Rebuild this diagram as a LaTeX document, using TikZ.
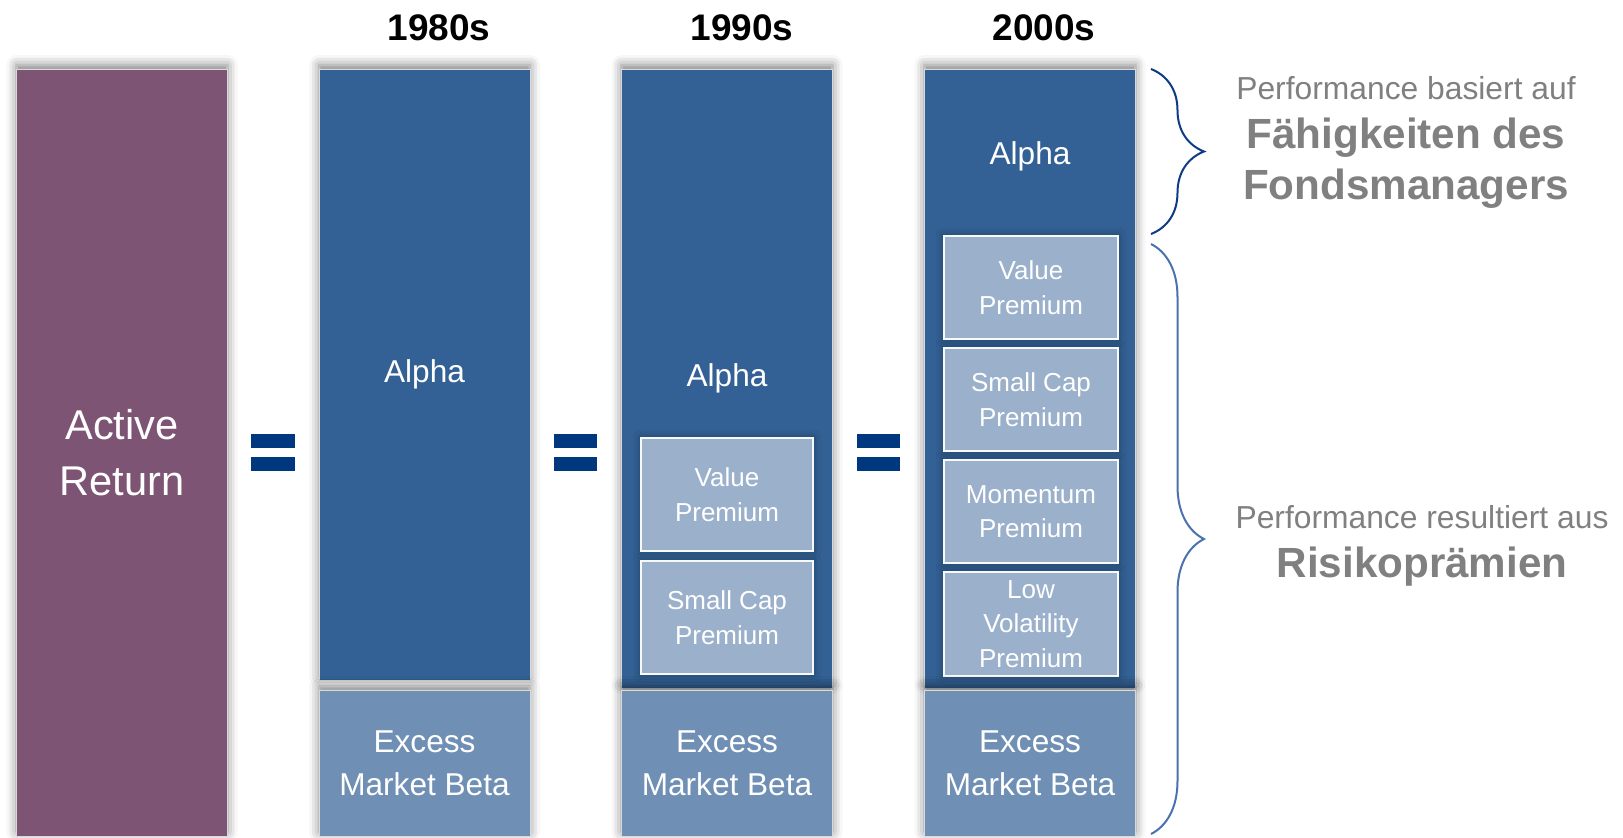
\documentclass[tikz,border=0pt]{standalone}
\usepackage{fontspec}
\setmainfont{Liberation Sans}
\usetikzlibrary{decorations.pathreplacing,shadows.blur}

\definecolor{activepurple}{RGB}{125,84,115}
\definecolor{alphablue}{RGB}{51,97,149}
\definecolor{betablue}{RGB}{111,143,181}
\definecolor{premblue}{RGB}{155,176,203}
\definecolor{eqblue}{RGB}{0,56,128}
\definecolor{bracedark}{RGB}{14,58,134}
\definecolor{bracelight}{RGB}{74,114,174}
\definecolor{notegray}{RGB}{128,128,128}

\tikzset{
  colbar/.style={rectangle, draw=white!85!black, line width=0.5pt, inner sep=0pt,
    minimum width=105.5pt, text=white, align=center,
    font=\fontsize{15.8}{21.5}\selectfont,
    blur shadow={shadow xshift=0pt, shadow yshift=2pt, shadow blur radius=5pt, shadow opacity=50}},
  premium/.style={rectangle, draw=white!92!premblue, line width=0.8pt, inner sep=0pt,
    fill=premblue, text=white, align=center, font=\fontsize{13}{17.3}\selectfont,
    blur shadow={shadow xshift=0pt, shadow yshift=0pt, shadow blur radius=4pt, shadow opacity=40}},
  yearlabel/.style={anchor=base, font=\bfseries\fontsize{18.5}{22}\selectfont},
  notesmall/.style={anchor=base, text=notegray, font=\fontsize{15.9}{19}\selectfont},
  notebig/.style={anchor=base, text=notegray, font=\bfseries\fontsize{21.1}{25.5}\selectfont},
  bracket/.style={decorate, decoration={brace, amplitude=26.5pt}, line width=1pt}
}

\begin{document}
\begin{tikzpicture}[x=0.5pt,y=-0.5pt]
\useasboundingbox (0,0) rectangle (1623,837);

% headers
\node[yearlabel] (y80) at (439,40) {1980s};
\node[yearlabel] (y90) at (742,40) {1990s};
\node[yearlabel] (y00) at (1044,40) {2000s};

% active return
\node[colbar, fill=activepurple, minimum height=383.5pt,
      font=\fontsize{20.8}{28}\selectfont] (active) at (122,452.5) {Active\\Return};

% 1980s
\node[colbar, fill=alphablue, minimum height=305.5pt] (alpha80) at (424.5,374.5) {Alpha};
\node[colbar, fill=betablue, minimum height=73pt] (beta80) at (424.5,763) {Excess\\Market Beta};

% 1990s
\node[colbar, fill=alphablue, minimum height=309.5pt] (alpha90) at (727,378.5) {Alpha};
\node[premium, minimum width=86pt, minimum height=56.5pt] (value90) at (727,494.5) {Value\\Premium};
\node[premium, minimum width=86pt, minimum height=56.5pt] (small90) at (727,617.5) {Small Cap\\Premium};
\node[colbar, fill=betablue, minimum height=73pt] (beta90) at (727,763) {Excess\\Market Beta};

% 2000s
\node[colbar, fill=alphablue, minimum height=309.5pt] (alpha00) at (1030,378.5) {};
\node[text=white, font=\fontsize{15.8}{21.5}\selectfont] (alphatext00) at (1030,156) {Alpha};
\node[premium, minimum width=87pt, minimum height=51.5pt] (value00) at (1031,287.5) {Value\\Premium};
\node[premium, minimum width=87pt, minimum height=51.5pt] (small00) at (1031,399.5) {Small Cap\\Premium};
\node[premium, minimum width=87pt, minimum height=51.5pt] (mom00) at (1031,511.5) {Momentum\\Premium};
\node[premium, minimum width=87pt, minimum height=52pt] (lowvol00) at (1031,624) {Low\\Volatility\\Premium};
\node[colbar, fill=betablue, minimum height=73pt] (beta00) at (1030,763) {Excess\\Market Beta};

% equals signs
\fill[eqblue] (251,434) rectangle (295,448);
\fill[eqblue] (251,457) rectangle (295,471);
\fill[eqblue] (554,434) rectangle (597,448);
\fill[eqblue] (554,457) rectangle (597,471);
\fill[eqblue] (857,434) rectangle (900,448);
\fill[eqblue] (857,457) rectangle (900,471);

% braces
\coordinate (skilltop) at (1151,69);
\coordinate (skillbot) at (1151,234);
\coordinate (risktop) at (1151,244);
\coordinate (riskbot) at (1151,834);
\draw[bracket, bracedark] (skilltop) -- (skillbot);
\draw[bracket, bracelight] (risktop) -- (riskbot);

% notes
\node[notesmall] (skillnote) at (1406,99) {Performance basiert auf};
\node[notebig] (skill1) at (1406,148) {Fähigkeiten des};
\node[notebig] (skill2) at (1406,199) {Fondsmanagers};
\node[notesmall] (risknote) at (1422,528) {Performance resultiert aus};
\node[notebig] (risk) at (1422,577) {Risikoprämien};

\end{tikzpicture}
\end{document}
